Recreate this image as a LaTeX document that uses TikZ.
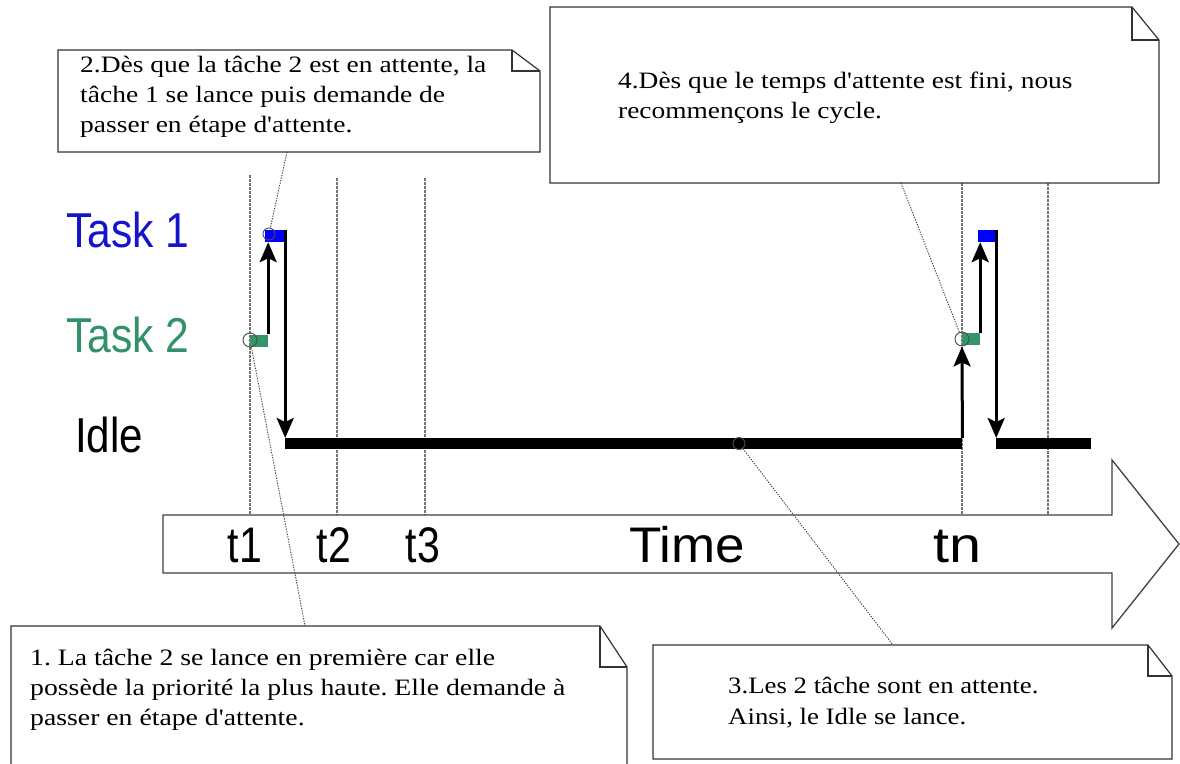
\documentclass[tikz,border=0pt]{standalone}
\usepackage{fontspec}
\setmainfont{Liberation Serif}[Ligatures=TeXOff]
\newfontfamily\sanslabel{Liberation Sans}
\usetikzlibrary{arrows.meta}
\definecolor{taskblue}{RGB}{20,20,200}
\definecolor{markblue}{RGB}{0,0,255}
\definecolor{taskgreen}{RGB}{50,145,105}
\definecolor{markgreen}{RGB}{50,150,105}
\frenchspacing
\begin{document}
\begin{tikzpicture}[x=1pt,y=-1pt,
  notebox/.style={draw=black!80,line width=1.2pt,fill=white,line join=miter},
  notefold/.style={draw=black!80,line width=1.2pt},
  notetext/.style={anchor=base west,inner sep=0pt,font=\fontsize{23.5}{30}\selectfont},
  biglabel/.style={anchor=base,inner sep=0pt,font=\sanslabel\fontsize{50}{50}\selectfont},
  tasklabel/.style={anchor=base west,inner sep=0pt,font=\sanslabel\fontsize{49}{49}\selectfont},
  guide/.style={draw=black!55,line width=1.6pt,dash pattern=on 2.5pt off 1.5pt},
  leader/.style={draw=black!75,line width=0.9pt,dash pattern=on 1.3pt off 1.3pt},
  flow/.style={draw=black,line width=3pt,-{Stealth[length=20pt,width=17pt,inset=4pt]}},
  idlebar/.style={fill=black,draw=none,inner sep=0pt,minimum height=11pt,anchor=north west},
  taskmark/.style={draw=none,inner sep=0pt,minimum height=12pt},
  ring/.style={circle,draw=black!70,line width=0.9pt,inner sep=0pt,minimum size=#1},
  ring/.default=14pt,
  timearrow/.style={draw=black!75,line width=1.3pt,fill=white,line join=miter},
]
\useasboundingbox (0,0) rectangle (1180,763);
\clip (0,0) rectangle (1180,763);

% guide lines
\coordinate (v1t) at (250,175); \coordinate (v1b) at (250,515);
\coordinate (v2t) at (337,178); \coordinate (v2b) at (337,515);
\coordinate (v3t) at (425,178); \coordinate (v3b) at (425,515);
\coordinate (v4t) at (962,183); \coordinate (v4b) at (962,515);
\coordinate (v5t) at (1048,183); \coordinate (v5b) at (1048,515);
\foreach \v in {1,...,5} {\draw[guide] (v\v t) -- (v\v b);}

% time arrow
\draw[timearrow] (163,515) -- (1112,515) -- (1112,460) -- (1179,544)
  -- (1112,628) -- (1112,573) -- (163,573) -- cycle;
\node[biglabel] (lt1) at (245,562) {\scalebox{0.82}[1]{t1}};
\node[biglabel] (lt2) at (334,562) {\scalebox{0.82}[1]{t2}};
\node[biglabel] (lt3) at (423,562) {\scalebox{0.82}[1]{t3}};
\node[biglabel] (ltime) at (687,562) {\scalebox{1.06}[1]{Time}};
\node[biglabel] (ltn) at (957,562) {\scalebox{1.15}[1]{tn}};

% row labels
\node[tasklabel,text=taskblue] (task1) at (66,247) {\scalebox{0.87}[1]{Task 1}};
\node[tasklabel,text=taskgreen] (task2) at (66,352) {\scalebox{0.87}[1]{Task 2}};
\node[tasklabel,text=black] (idle) at (75,452) {\scalebox{0.86}[1]{Idle}};

% idle bars
\node[idlebar,minimum width=677pt] (i1) at (285,438) {};
\node[idlebar,minimum width=95pt] (i2) at (996,438) {};

% task markers
\node[taskmark,fill=markgreen,minimum width=18pt] (g1) at (259,340.5) {};
\node[taskmark,fill=markblue,minimum width=20pt] (b1) at (275,236) {};
\node[taskmark,fill=markgreen,minimum width=18pt] (g2) at (971,339) {};
\node[taskmark,fill=markblue,minimum width=18pt] (b2) at (987,236) {};

% circles
\node[ring] (c1) at (250,340) {};
\node[ring=12pt] (c2) at (269,234) {};
\node[ring] (c3) at (962,339) {};
\node[ring=12pt] (c4) at (739,443.5) {};

% flow arrows
\draw[flow] (g1.north east) -- (g1.north east |- b1.south);
\draw[flow] (b1.north east) -- (b1.north east |- i1.north);
\draw[flow] (i1.north east) -- (c3.south);
\draw[flow] (g2.north east) -- (g2.north east |- b2.south);
\draw[flow] (b2.north east) -- (b2.north east |- i2.north);

% leaders
\coordinate (n2a) at (287,152);
\coordinate (n1a) at (305,626);
\coordinate (n3a) at (893,645);
\coordinate (n4a) at (901,183);
\draw[leader] (n2a) -- (c2);
\draw[leader] (c1) -- (n1a);
\draw[leader] (c4) -- (n3a);
\draw[leader] (n4a) -- (c3);

% note 2
\draw[notebox] (58,50) -- (512,50) -- (540,71) -- (540,152) -- (58,152) -- cycle;
\draw[notefold] (512,50) -- (512,71) -- (540,71);
\node[notetext] (n2l1) at (80,72) {\scalebox{1.17}[1]{2.Dès que la tâche 2 est en attente, la}};
\node[notetext] (n2l2) at (80,102) {\scalebox{1.17}[1]{tâche 1 se lance puis demande de}};
\node[notetext] (n2l3) at (80,132) {\scalebox{1.17}[1]{passer en étape d'attente.}};

% note 4
\draw[notebox] (550,7) -- (1132,7) -- (1159,40) -- (1159,183) -- (550,183) -- cycle;
\draw[notefold] (1132,7) -- (1132,40) -- (1159,40);
\node[notetext] (n4l1) at (618,88) {\scalebox{1.165}[1]{4.Dès que le temps d'attente est fini, nous}};
\node[notetext] (n4l2) at (618,118) {\scalebox{1.165}[1]{recommençons le cycle.}};

% note 1
\draw[notebox] (11,626) -- (600,626) -- (627,667) -- (627,775) -- (11,775) -- cycle;
\draw[notefold] (600,626) -- (600,667) -- (627,667);
\node[notetext] (n1l1) at (30,665) {\scalebox{1.18}[1]{1. La tâche 2 se lance en première car elle}};
\node[notetext] (n1l2) at (30,695) {\scalebox{1.18}[1]{possède la priorité la plus haute. Elle demande à}};
\node[notetext] (n1l3) at (30,725) {\scalebox{1.18}[1]{passer en étape d'attente.}};

% note 3
\draw[notebox] (653,645) -- (1148,645) -- (1172,676) -- (1172,759) -- (653,759) -- cycle;
\draw[notefold] (1148,645) -- (1148,676) -- (1172,676);
\node[notetext] (n3l1) at (728,693) {\scalebox{1.14}[1]{3.Les 2 tâche sont en attente.}};
\node[notetext] (n3l2) at (728,724) {\scalebox{1.14}[1]{Ainsi, le Idle se lance.}};
\end{tikzpicture}
\end{document}
